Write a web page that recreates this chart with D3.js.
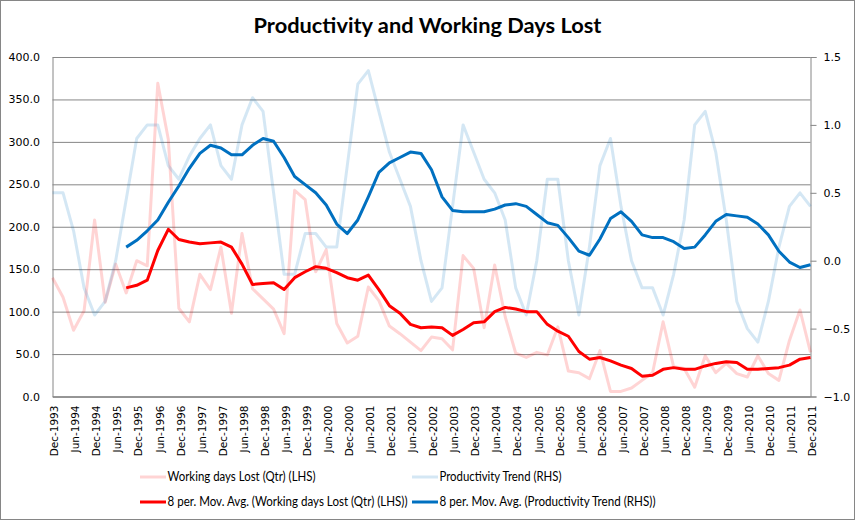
<!DOCTYPE html>
<html>
<head>
<meta charset="utf-8">
<script src="https://cdn.jsdelivr.net/npm/d3@7"></script>
<style>
  body { margin: 0; background: #fff; }
  svg { display: block; }
</style>
</head>
<body>
<div id="chart"></div>
<script>
// quarters shown on the category axis
var quarters = [
  "Dec-1993",
  "Mar-1994","Jun-1994","Sep-1994","Dec-1994",
  "Mar-1995","Jun-1995","Sep-1995","Dec-1995",
  "Mar-1996","Jun-1996","Sep-1996","Dec-1996",
  "Mar-1997","Jun-1997","Sep-1997","Dec-1997",
  "Mar-1998","Jun-1998","Sep-1998","Dec-1998",
  "Mar-1999","Jun-1999","Sep-1999","Dec-1999",
  "Mar-2000","Jun-2000","Sep-2000","Dec-2000",
  "Mar-2001","Jun-2001","Sep-2001","Dec-2001",
  "Mar-2002","Jun-2002","Sep-2002","Dec-2002",
  "Mar-2003","Jun-2003","Sep-2003","Dec-2003",
  "Mar-2004","Jun-2004","Sep-2004","Dec-2004",
  "Mar-2005","Jun-2005","Sep-2005","Dec-2005",
  "Mar-2006","Jun-2006","Sep-2006","Dec-2006",
  "Mar-2007","Jun-2007","Sep-2007","Dec-2007",
  "Mar-2008","Jun-2008","Sep-2008","Dec-2008",
  "Mar-2009","Jun-2009","Sep-2009","Dec-2009",
  "Mar-2010","Jun-2010","Sep-2010","Dec-2010",
  "Mar-2011","Jun-2011","Sep-2011","Dec-2011"
];

// Working days Lost (Qtr) (LHS)
var workingDays = [
  140, 117, 78, 101, 208, 111, 156, 122, 160, 154, 369, 303, 104, 88, 144, 126,
  176, 98, 192, 127, 115, 103, 74, 243, 232, 147, 173, 86, 63, 71, 129, 113,
  83, 74, 64, 54, 70, 68, 55, 166, 151, 81, 155, 94, 51, 46, 52, 49,
  82, 30, 28, 21, 54, 6, 6, 10, 19, 28, 88, 35, 33, 11, 48, 28,
  39, 27, 23, 48, 27, 19, 66, 102, 52
];

// Productivity Trend (RHS)
var productivity = [
  0.5, 0.5, 0.22, -0.2, -0.4, -0.3, 0.0, 0.45, 0.9, 1.0, 1.0, 0.7, 0.6, 0.77, 0.9, 1.0,
  0.7, 0.6, 1.0, 1.2, 1.1, 0.5, -0.1, -0.1, 0.2, 0.2, 0.1, 0.1, 0.7, 1.3, 1.4, 1.1,
  0.8, 0.6, 0.4, 0.0, -0.3, -0.2, 0.4, 1.0, 0.8, 0.6, 0.5, 0.3, -0.2, -0.4, 0.0, 0.6,
  0.6, 0.0, -0.4, 0.1, 0.7, 0.9, 0.4, 0.0, -0.2, -0.2, -0.4, -0.1, 0.3, 1.0, 1.1, 0.8,
  0.3, -0.3, -0.5, -0.6, -0.3, 0.1, 0.4, 0.5, 0.4
];

// 8 per. Mov. Avg. lines, starting at Sep-1995
var workingDaysAvg = [
  null, null, null, null, null, null, null,
  128, 131, 137, 172, 197, 185, 182, 180, 181, 182, 176, 156, 132, 133, 134, 126,
  140, 147, 153, 151, 146, 140, 137, 143, 126, 107, 98, 85, 81, 82, 81, 72,
  79, 87, 88, 100, 105, 103, 100, 100, 85, 77, 71, 53, 44, 46, 42, 37,
  33, 24, 25, 32, 34, 32, 32, 36, 39, 41, 40, 32, 32, 33, 34, 37, 44, 46
];
var productivityAvg = [
  null, null, null, null, null, null, null,
  0.10, 0.15, 0.22, 0.30, 0.43, 0.55, 0.68, 0.79, 0.85, 0.83, 0.78, 0.78, 0.85, 0.90, 0.88, 0.76,
  0.62, 0.56, 0.50, 0.41, 0.27, 0.20, 0.30, 0.47, 0.65, 0.72, 0.76, 0.80, 0.79, 0.67, 0.47, 0.37,
  0.36, 0.36, 0.36, 0.38, 0.41, 0.42, 0.40, 0.34, 0.28, 0.26, 0.17, 0.07, 0.04, 0.16, 0.31, 0.36,
  0.29, 0.19, 0.17, 0.17, 0.14, 0.09, 0.10, 0.19, 0.29, 0.34, 0.33, 0.32, 0.27, 0.19, 0.07, -0.01,
  -0.05, -0.03
];

var leftTicks = [0, 50, 100, 150, 200, 250, 300, 350, 400];
var rightTicks = [-1.0, -0.5, 0.0, 0.5, 1.0, 1.5];

var W = 856, H = 521;
var plot = { left: 52.5, right: 810.5, top: 57, bottom: 396.5 };
var gridColor = "#868686";
var tickFont = "'DejaVu Sans', Verdana, sans-serif";
var textFont = "Lato, 'Open Sans', sans-serif";

var svg = d3.select("#chart").append("svg")
  .attr("width", W)
  .attr("height", H);

// chart border
svg.append("rect")
  .attr("x", 0.5).attr("y", 0.5)
  .attr("width", 854).attr("height", 519)
  .attr("fill", "#fff")
  .attr("stroke", gridColor);

// title
svg.append("text")
  .attr("x", 427.5).attr("y", 33)
  .attr("text-anchor", "middle")
  .attr("textLength", 348).attr("lengthAdjust", "spacingAndGlyphs")
  .style("font-family", textFont)
  .style("font-weight", "bold")
  .style("font-size", "21px")
  .text("Productivity and Working Days Lost");

// scales
var x = d3.scalePoint()
  .domain(quarters)
  .range([plot.left, plot.right])
  .padding(0);

var yL = d3.scaleLinear().domain([0, 400]).range([plot.bottom, plot.top]);
var yR = d3.scaleLinear().domain([-1, 1.5]).range([plot.bottom, plot.top]);

// left axis + gridlines
var gLeft = svg.append("g")
  .attr("transform", "translate(" + plot.left + ",0)")
  .call(d3.axisLeft(yL)
    .tickValues(leftTicks)
    .tickFormat(d3.format(".1f"))
    .tickSize(-(plot.right - plot.left))
    .tickPadding(12.5));
gLeft.select(".domain").attr("stroke", gridColor);
gLeft.selectAll(".tick line").attr("stroke", gridColor);
gLeft.selectAll(".tick text")
  .style("font-family", tickFont).style("font-size", "11px").attr("fill", "#000");

// right axis
var gRight = svg.append("g")
  .attr("transform", "translate(" + plot.right + ",0)")
  .call(d3.axisRight(yR)
    .tickValues(rightTicks)
    .tickFormat(d3.format(".1f"))
    .tickSize(6)
    .tickPadding(7));
gRight.select(".domain").attr("stroke", gridColor);
gRight.selectAll(".tick line").attr("stroke", gridColor);
gRight.selectAll(".tick text")
  .style("font-family", tickFont).style("font-size", "11px").attr("fill", "#000");

// bottom axis, every other quarter labelled
var xLabels = quarters.filter(function(d, i) { return i % 2 === 0; });
var gBottom = svg.append("g")
  .attr("transform", "translate(0," + plot.bottom + ")")
  .call(d3.axisBottom(x).tickValues(xLabels).tickSize(0).tickSizeOuter(0));
gBottom.select(".domain").attr("stroke", gridColor);
gBottom.selectAll(".tick text")
  .attr("transform", "rotate(-90)")
  .attr("x", -9).attr("y", 0).attr("dy", "0.5em")
  .attr("text-anchor", "end")
  .style("font-family", tickFont).style("font-size", "10.5px").attr("fill", "#000");

// lines
function lineFor(scale) {
  return d3.line()
    .defined(function(d) { return d != null; })
    .x(function(d, i) { return x(quarters[i]); })
    .y(function(d) { return scale(d); });
}

var series = [
  { data: workingDays, scale: yL, color: "#ff0000", opacity: 0.17 },
  { data: productivity, scale: yR, color: "#0070c0", opacity: 0.17 },
  { data: workingDaysAvg, scale: yL, color: "#ff0000", opacity: 1 },
  { data: productivityAvg, scale: yR, color: "#0070c0", opacity: 1 }
];

series.forEach(function(s) {
  svg.append("path")
    .datum(s.data)
    .attr("fill", "none")
    .attr("stroke", s.color)
    .attr("stroke-opacity", s.opacity)
    .attr("stroke-width", 3)
    .attr("stroke-linejoin", "round")
    .attr("d", lineFor(s.scale));
});

// legend
var legendItems = [
  { label: "Working days Lost (Qtr) (LHS)", color: "#ff0000", opacity: 0.17, x: 140, y: 477, w: 148 },
  { label: "Productivity Trend (RHS)", color: "#0070c0", opacity: 0.17, x: 412, y: 477, w: 122 },
  { label: "8 per. Mov. Avg. (Working days Lost (Qtr) (LHS))", color: "#ff0000", opacity: 1, x: 140, y: 502, w: 240 },
  { label: "8 per. Mov. Avg. (Productivity Trend (RHS))", color: "#0070c0", opacity: 1, x: 412, y: 502, w: 216 }
];

var legend = svg.append("g");
legendItems.forEach(function(d) {
  legend.append("line")
    .attr("x1", d.x).attr("x2", d.x + 26)
    .attr("y1", d.y).attr("y2", d.y)
    .attr("stroke", d.color)
    .attr("stroke-opacity", d.opacity)
    .attr("stroke-width", 3);
  legend.append("text")
    .attr("x", d.x + 27.5).attr("y", d.y)
    .attr("dy", "0.35em")
    .attr("textLength", d.w).attr("lengthAdjust", "spacingAndGlyphs")
    .style("font-family", textFont)
    .style("font-size", "12.5px")
    .attr("fill", "#000")
    .text(d.label);
});
</script>
</body>
</html>
